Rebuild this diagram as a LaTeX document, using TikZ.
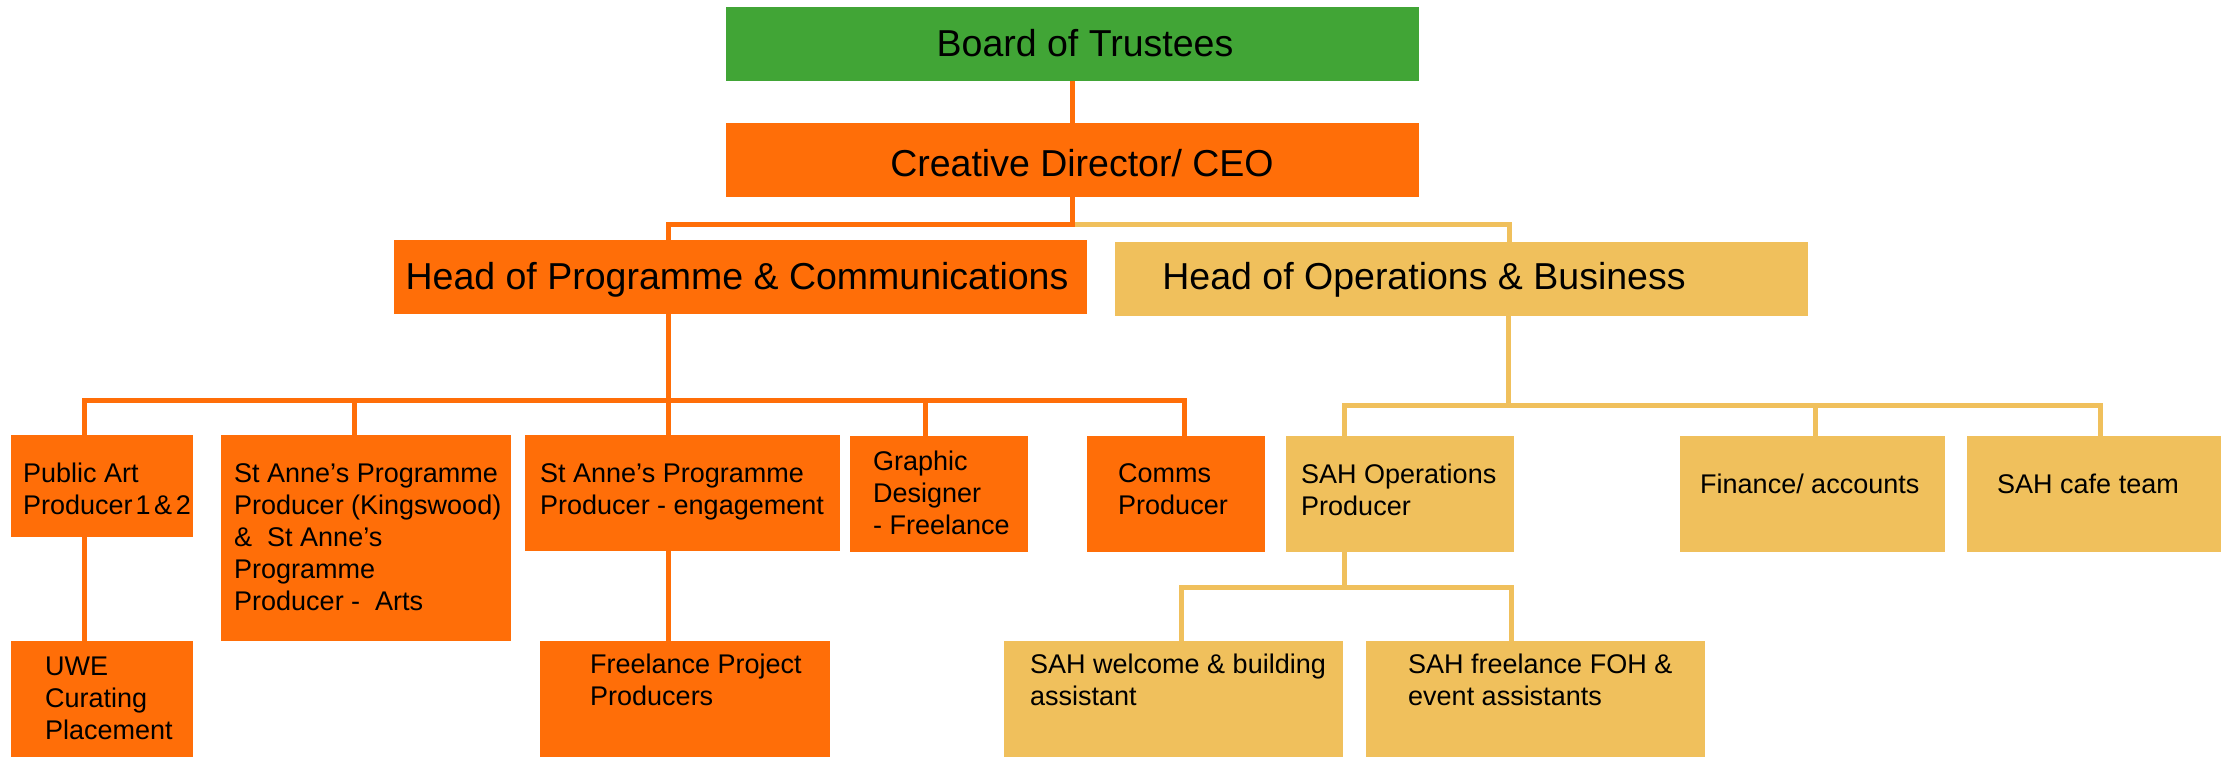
\documentclass[tikz,border=0pt]{standalone}
\usepackage{fontspec}
\setmainfont{Liberation Sans}
\usetikzlibrary{calc}
\definecolor{trustgreen}{HTML}{41A536}
\definecolor{progorange}{HTML}{FF6E08}
\definecolor{opsgold}{HTML}{F0C05C}
% left-aligned stack of lines whose baseline is that of the first line
\newcommand{\rolelines}[1]{\begin{tabular}[t]{@{}l@{}}#1\end{tabular}}
\begin{document}
\begin{tikzpicture}[x=1pt,y=-1pt,
  box/.style={rectangle, inner sep=0pt, outer sep=0pt, anchor=north west},
  gbox/.style={box, fill=trustgreen},
  obox/.style={box, fill=progorange},
  ybox/.style={box, fill=opsgold},
  headtext/.style={inner sep=0pt, anchor=base, font=\fontsize{37.5}{45}\selectfont},
  roletext/.style={inner sep=0pt, anchor=base west, font=\fontsize{27}{32}\selectfont},
  oline/.style={draw=progorange, line width=5pt},
  yline/.style={draw=opsgold, line width=5pt}]
\useasboundingbox (0,0) rectangle (2221,756);

% ---- boxes ----
\node[gbox, minimum width=693pt, minimum height=74pt] (board) at (726,7) {};
\node[obox, minimum width=693pt, minimum height=74pt] (ceo) at (726,123) {};
\node[obox, minimum width=693pt, minimum height=74pt] (hpc) at (394,240) {};
\node[ybox, minimum width=693pt, minimum height=74pt] (hob) at (1115,242) {};

\node[obox, minimum width=182pt, minimum height=102pt] (pa) at (11,435) {};
\node[obox, minimum width=290pt, minimum height=206pt] (sak) at (221,435) {};
\node[obox, minimum width=315pt, minimum height=116pt] (sae) at (525,435) {};
\node[obox, minimum width=178pt, minimum height=116pt] (gd) at (850,436) {};
\node[obox, minimum width=178pt, minimum height=116pt] (cp) at (1087,436) {};
\node[ybox, minimum width=228pt, minimum height=116pt] (sop) at (1286,436) {};
\node[ybox, minimum width=265pt, minimum height=116pt] (fin) at (1680,436) {};
\node[ybox, minimum width=258pt, minimum height=116pt] (cafe) at (1967,436) {};

\node[obox, minimum width=182pt, minimum height=120pt] (uwe) at (11,641) {};
\node[obox, minimum width=290pt, minimum height=120pt] (fpp) at (540,641) {};
\node[ybox, minimum width=339pt, minimum height=120pt] (wel) at (1004,641) {};
\node[ybox, minimum width=339pt, minimum height=120pt] (foh) at (1366,641) {};

% ---- reporting lines ----
\draw[oline] (board.south) -- (ceo.north);
\coordinate (split) at ($(ceo.south)+(0,27)$);
\draw[yline] (split) -| ($(hob.north west)+(394,0)$);
\draw[oline] (ceo.south) -- (split) -| ($(hpc.north west)+(274,0)$);

% programme & communications team
\coordinate (pbus) at ($(hpc.south west)+(274,86)$);
\draw[oline] ($(hpc.south west)+(274,0)$) -- (pbus);
\foreach \n/\dx in {pa/73, sak/133, sae/143, gd/75, cp/97}
  \draw[oline] ($(\n.north west)+(\dx,0)$) |- (pbus);
\draw[oline] ($(pa.south west)+(73,0)$) -- ($(uwe.north west)+(73,0)$);
\draw[oline] ($(sae.south west)+(143,0)$) -- ($(fpp.north west)+(128,0)$);

% operations & business team
\coordinate (obus) at ($(hob.south west)+(393,89)$);
\draw[yline] ($(hob.south west)+(393,0)$) -- (obus);
\foreach \n/\dx in {sop/58, fin/135, cafe/133}
  \draw[yline] ($(\n.north west)+(\dx,0)$) |- (obus);
\coordinate (sbus) at ($(sop.south west)+(58,35)$);
\draw[yline] ($(sop.south west)+(58,0)$) -- (sbus);
\foreach \n/\dx in {wel/177, foh/145}
  \draw[yline] ($(\n.north west)+(\dx,0)$) |- (sbus);

% ---- labels ----
\node[headtext] (board-l) at (1085,56) {Board of Trustees};
\node[headtext] (ceo-l) at (1082,176) {Creative Director/ CEO};
\node[headtext] (hpc-l) at (737,289) {Head of Programme \& Communications};
\node[headtext] (hob-l) at (1424,289) {Head of Operations \& Business};

\node[roletext] (pa-l) at (23,482) {\rolelines{Public Art\\Producer\kern3pt 1\kern3.5pt\&\kern3.5pt 2}};
\node[roletext] (sak-l) at (234,482) {\rolelines{St Anne’s Programme\\Producer (Kingswood)\\\& \ St Anne’s\\Programme\\Producer - \ Arts}};
\node[roletext] (sae-l) at (540,482) {\rolelines{St Anne’s Programme\\Producer - engagement}};
\node[roletext] (gd-l) at (873,470) {\rolelines{Graphic\\Designer\\- Freelance}};
\node[roletext] (cp-l) at (1118,482) {\rolelines{Comms\\Producer}};
\node[roletext] (sop-l) at (1301,483) {\rolelines{SAH Operations\\Producer}};
\node[roletext] (fin-l) at (1700,493) {Finance/ accounts};
\node[roletext] (cafe-l) at (1997,493) {SAH cafe team};
\node[roletext] (uwe-l) at (45,675) {\rolelines{UWE\\Curating\\Placement}};
\node[roletext] (fpp-l) at (590,673) {\rolelines{Freelance Project\\Producers}};
\node[roletext] (wel-l) at (1030,673) {\rolelines{SAH welcome \& building\\assistant}};
\node[roletext] (foh-l) at (1408,673) {\rolelines{SAH freelance FOH \&\\event assistants}};
\end{tikzpicture}
\end{document}
